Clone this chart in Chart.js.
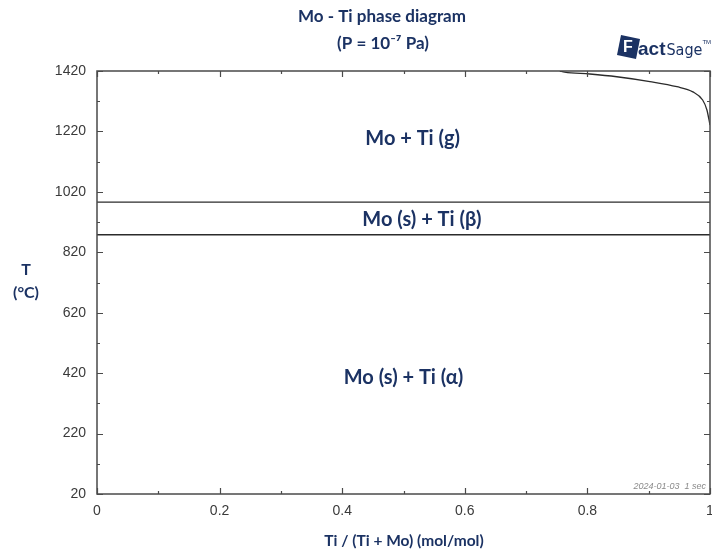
<!DOCTYPE HTML>
<html>
<head>
  <title>Mo - Ti phase diagram</title>
  <meta charset="utf-8" />
  <script src="https://cdn.jsdelivr.net/npm/chart.js@4.4.1/dist/chart.umd.min.js"></script>
  <style type="text/css">
    html, body { margin: 0; padding: 0; overflow: hidden; background: #fff; }
    #wrap { position: relative; width: 730px; height: 558px; }
  </style>
</head>
<body>
<div id="wrap"><canvas id="phase-chart"></canvas></div>

<script>
  // axis ticks
  var xTicks = [0, 0.2, 0.4, 0.6, 0.8, 1];
  var xMinorTicks = [0.1, 0.3, 0.5, 0.7, 0.9];
  var yTicks = [20, 220, 420, 620, 820, 1020, 1220, 1420];
  var yMinorTicks = [120, 320, 520, 720, 920, 1120, 1320];

  // Ti(g) boundary near pure Ti
  var curveX = [0.755, 0.763, 0.804, 0.848, 0.902, 0.946, 0.972, 0.988, 0.995, 1.0];
  var curveT = [1420, 1416, 1410, 1401, 1385, 1368, 1351, 1324, 1291, 1241];

  // horizontal invariants
  var boundaryT = [986, 878];

  var regionLabels = ['Mo + Ti (g)', 'Mo (s) + Ti (\u03B2)', 'Mo (s) + Ti (\u03B1)'];
  var labelAt = [[0.515, 1198], [0.53, 930], [0.50, 407]];

  var navy = '#1b3263';
  var lineCol = '#2b2b2b';

  function pts(xs, ys) {
    return xs.map(function (x, i) { return { x: x, y: ys[i] }; });
  }

  var datasets = [{
    data: pts(curveX, curveT),
    borderColor: lineCol, borderWidth: 1.3, pointRadius: 0,
    cubicInterpolationMode: 'monotone', fill: false
  }];
  boundaryT.forEach(function (t) {
    datasets.push({
      data: pts([0, 1], [t, t]),
      borderColor: lineCol, borderWidth: 1.3, pointRadius: 0, fill: false
    });
  });

  var decor = {
    id: 'decor',
    afterDraw: function (chart) {
      var ctx = chart.ctx, a = chart.chartArea;
      var xs = chart.scales.x, ys = chart.scales.y;
      ctx.save();
      // frame
      ctx.strokeStyle = '#4a4a4a';
      ctx.lineWidth = 1.5;
      ctx.strokeRect(a.left, a.top, a.right - a.left, a.bottom - a.top);
      // inward ticks on all sides
      ctx.lineWidth = 1.2;
      function xt(v, len) {
        var p = Math.round(xs.getPixelForValue(v)) + 0.5;
        ctx.beginPath();
        ctx.moveTo(p, a.bottom); ctx.lineTo(p, a.bottom - len);
        ctx.moveTo(p, a.top); ctx.lineTo(p, a.top + len);
        ctx.stroke();
      }
      function yt(v, len) {
        var p = Math.round(ys.getPixelForValue(v)) + 0.5;
        ctx.beginPath();
        ctx.moveTo(a.left, p); ctx.lineTo(a.left + len, p);
        ctx.moveTo(a.right, p); ctx.lineTo(a.right - len, p);
        ctx.stroke();
      }
      xTicks.forEach(function (v) { xt(v, 6); });
      xMinorTicks.forEach(function (v) { xt(v, 3); });
      yTicks.forEach(function (v) { yt(v, 6); });
      yMinorTicks.forEach(function (v) { yt(v, 3); });

      // titles
      ctx.fillStyle = navy;
      ctx.textAlign = 'center';
      ctx.textBaseline = 'middle';
      ctx.font = 'bold 17px Lato, "Open Sans", sans-serif';
      ctx.fillText('Mo - Ti phase diagram', 382, 17);
      ctx.fillText('(P = 10\u207B\u2077 Pa)', 383, 44);
      ctx.font = 'bold 15.5px Lato, "Open Sans", sans-serif';
      ctx.fillText('Ti / (Ti + Mo) (mol/mol)', 404, 541);
      ctx.font = 'bold 16px Lato, "Open Sans", sans-serif';
      ctx.fillText('T', 26, 270);
      ctx.fillText('(\u00B0C)', 26, 293);

      // region labels
      ctx.font = 'bold 20px Lato, "Open Sans", sans-serif';
      regionLabels.forEach(function (s, i) {
        ctx.fillText(s, xs.getPixelForValue(labelAt[i][0]), ys.getPixelForValue(labelAt[i][1]));
      });

      // time stamp
      ctx.fillStyle = '#8a8a8a';
      ctx.textAlign = 'right';
      ctx.font = 'italic 9px "Liberation Sans", Arial, sans-serif';
      ctx.fillText('2024-01-03  1 sec', a.right - 4, a.bottom - 8);

      // FactSage logo
      ctx.fillStyle = navy;
      ctx.beginPath();
      ctx.moveTo(621, 35); ctx.lineTo(640, 39); ctx.lineTo(636, 59); ctx.lineTo(617, 55);
      ctx.closePath(); ctx.fill();
      ctx.fillStyle = '#fff';
      ctx.textAlign = 'left';
      ctx.font = 'bold 16px "Liberation Sans", Arial, sans-serif';
      ctx.fillText('F', 623, 48);
      ctx.fillStyle = navy;
      var lx = 638;
      ctx.font = 'bold 19px "Liberation Sans", Arial, sans-serif';
      ctx.fillText('act', lx, 50);
      lx += ctx.measureText('act').width + 1;
      ctx.font = '16px "DejaVu Sans Condensed", "Liberation Sans", Arial, sans-serif';
      ctx.fillText('Sage', lx, 51);
      lx += ctx.measureText('Sage').width;
      ctx.font = '6px "Liberation Sans", Arial, sans-serif';
      ctx.fillText('TM', lx, 42);
      ctx.restore();
    }
  };

  new Chart(document.getElementById('phase-chart'), {
    type: 'line',
    data: { datasets: datasets },
    options: {
      responsive: true,
      maintainAspectRatio: false,
      animation: false,
      layout: { padding: { top: 71, right: 20, left: 0, bottom: 0 } },
      plugins: { legend: { display: false }, title: { display: false }, tooltip: { enabled: false } },
      scales: {
        x: {
          type: 'linear', min: 0, max: 1,
          grid: { display: false }, border: { display: false },
          afterBuildTicks: function (s) {
            s.ticks = xTicks.concat(xMinorTicks).sort(function (p, q) { return p - q; })
              .map(function (v) { return { value: v }; });
          },
          afterFit: function (s) { s.height = 64; },
          ticks: {
            autoSkip: false, maxRotation: 0, padding: 1,
            color: '#3a3a3a', font: { family: '"Liberation Sans", Arial, sans-serif', size: 14 },
            callback: function (v) { return xTicks.indexOf(v) >= 0 ? String(v) : ''; }
          }
        },
        y: {
          type: 'linear', min: 20, max: 1420,
          grid: { display: false }, border: { display: false },
          afterBuildTicks: function (s) {
            s.ticks = yTicks.concat(yMinorTicks).sort(function (p, q) { return p - q; })
              .map(function (v) { return { value: v }; });
          },
          afterFit: function (s) { s.width = 97; },
          ticks: {
            autoSkip: false, padding: 3,
            color: '#3a3a3a', font: { family: '"Liberation Sans", Arial, sans-serif', size: 14 },
            callback: function (v) { return yTicks.indexOf(v) >= 0 ? String(v) : ''; }
          }
        }
      }
    },
    plugins: [decor]
  });
</script>
</body>
</html>
